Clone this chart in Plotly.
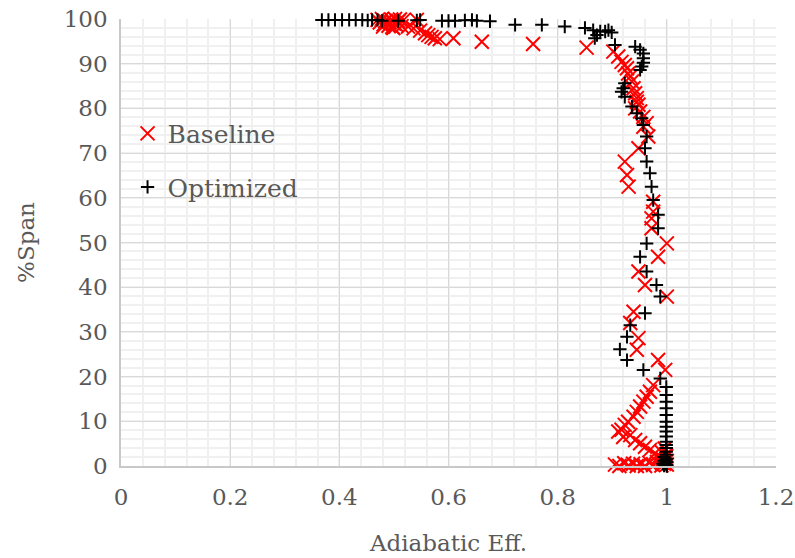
import plotly.graph_objects as go

# ---- Data ----
baseline_x = [
    0.719, 0.832, 0.925, 0.981, 0.994, 1.000, 0.572, 0.627, 0.542,
    0.470, 0.474, 0.478, 0.481, 0.484, 0.487, 0.490, 0.492, 0.495, 0.497,
    0.500, 0.502, 0.505, 0.508, 0.511, 0.514, 0.518, 0.480, 0.489, 0.499,
    0.526, 0.536, 0.548, 0.557, 0.563, 0.569, 0.575, 0.584, 0.609, 0.661,
    0.755, 0.853,
    0.902, 0.911, 0.917, 0.923, 0.927, 0.929, 0.933, 0.936, 0.939, 0.942,
    0.945, 0.948, 0.951, 0.957, 0.963,
    0.945, 0.942, 0.957, 0.966, 0.948, 0.923, 0.927, 0.930, 0.975, 0.975,
    0.972, 0.972, 1.000, 0.984, 0.948, 0.960, 1.000,
    0.939, 0.933, 0.948, 0.945, 0.984, 0.997,
    0.975, 0.969, 0.963, 0.957, 0.951, 0.945, 0.939, 0.929, 0.923, 0.917,
    0.911, 0.920, 0.933, 0.942, 0.951, 0.960, 0.969, 0.978, 0.985,
    0.905, 0.913, 0.922, 0.930, 0.938, 0.945, 0.952, 0.960, 0.968, 0.975,
    0.982, 0.990, 0.995, 1.000, 0.993, 0.998, 0.990, 0.996, 1.000, 0.992,
    0.987, 0.999,
]
baseline_y = [
    100.2, 100.2, 100.2, 100.2, 100.2, 100.2, 100.2, 100.2, 99.8,
    99.8, 99.2, 100.0, 98.8, 99.5, 100.2, 98.5, 99.3, 99.9, 98.2,
    99.0, 100.0, 98.6, 99.5, 99.9, 98.4, 99.8, 98.3, 100.4, 98.0,
    98.3, 97.9, 97.4, 96.8, 96.4, 96.0, 95.7, 95.5, 95.7, 94.9,
    94.4, 93.6,
    92.7, 91.6, 90.4, 89.7, 89.0, 87.8, 87.1, 86.0, 84.5, 83.4,
    82.3, 80.8, 79.3, 78.1, 76.7,
    81.5, 80.0, 75.9, 73.7, 71.1, 68.1, 65.1, 62.5, 59.1, 56.9,
    55.4, 53.2, 49.8, 46.8, 43.5, 40.5, 37.9,
    34.5, 32.0, 28.6, 26.0, 23.7, 21.5,
    18.1, 16.6, 15.5, 14.4, 13.3, 12.1, 11.0, 9.9, 9.2, 8.1,
    7.7, 6.5, 6.9, 5.8, 5.1, 4.3, 3.6, 2.8, 2.0,
    0.3, 0.0, 0.6, 0.1, 0.5, 0.0, 0.4, 0.0, 0.7, 0.2,
    0.9, 0.1, 0.5, 0.3, 1.5, 2.5, 3.2, 3.9, 1.1, 0.8,
    1.8, 2.2,
]

optimized_x = [
    0.368, 0.380, 0.392, 0.405, 0.418, 0.430, 0.442, 0.452, 0.460, 0.470,
    0.478, 0.508, 0.542, 0.548, 0.588, 0.600, 0.612, 0.630, 0.643, 0.648,
    0.652, 0.676, 0.722, 0.771, 0.813, 0.850, 0.865, 0.872, 0.868, 0.878,
    0.887, 0.893, 0.899, 0.905, 0.942, 0.951, 0.957, 0.957, 0.957, 0.954,
    0.951, 0.923, 0.920, 0.917, 0.923, 0.936, 0.945, 0.954, 0.957, 0.963,
    0.960, 0.963, 0.969, 0.972, 0.975, 0.984, 0.984, 0.963, 0.951, 0.963,
    0.981, 0.988, 0.960, 0.933, 0.927, 0.914, 0.927, 0.957, 0.988,
    0.999, 0.999, 0.999, 0.999, 0.999, 0.999, 0.999, 0.999, 0.999, 0.999,
    0.999, 0.999, 0.999, 0.999,
    0.995, 1.000, 0.995, 1.000, 0.997, 1.000, 0.995, 1.000, 0.993, 0.998,
]
optimized_y = [
    99.8, 99.8, 99.8, 99.8, 99.8, 99.8, 99.8, 99.7, 99.8, 99.8,
    99.6, 99.6, 99.7, 99.8, 99.6, 99.6, 99.6, 99.7, 99.8, 100.2,
    99.6, 99.5, 98.7, 98.7, 98.3, 98.0, 97.5, 96.4, 95.7, 97.2,
    97.2, 97.5, 97.0, 94.2, 93.8, 93.1, 92.3, 91.2, 90.2, 89.4,
    88.6, 85.6, 84.5, 83.7, 82.6, 80.4, 78.9, 77.8, 76.3, 73.7,
    71.1, 68.1, 65.5, 62.5, 59.5, 56.2, 53.2, 49.8, 46.8, 43.5,
    40.5, 37.9, 34.2, 31.5, 28.9, 26.1, 23.7, 21.5, 19.6,
    17.7, 15.9, 14.4, 12.9, 11.4, 9.9, 8.8, 7.7, 6.6, 5.4,
    4.7, 4.0, 3.2, 2.5,
    2.0, 1.6, 1.2, 0.9, 0.6, 0.3, 0.1, 0.0, 0.5, 1.4,
]

x_ticks = [0, 0.2, 0.4, 0.6, 0.8, 1.0, 1.2]
y_ticks = [0, 10, 20, 30, 40, 50, 60, 70, 80, 90, 100]

FONT = "DejaVu Serif"
GREY = "#595959"

fig = go.Figure()
fig.add_trace(go.Scatter(
    x=baseline_x, y=baseline_y, mode="markers", name="Baseline",
    legendgroup="b", cliponaxis=False,
    marker=dict(symbol="x-thin", size=14, line=dict(color="#ff0000", width=2), color="#ff0000"),
))
fig.add_trace(go.Scatter(
    x=optimized_x, y=optimized_y, mode="markers", name="Optimized",
    legendgroup="o", cliponaxis=False,
    marker=dict(symbol="cross-thin", size=9.5, line=dict(color="#000000", width=2), color="#000000"),
))

fig.update_layout(
    width=795, height=558,
    margin=dict(l=121, r=19, t=19, b=92),
    paper_bgcolor="white", plot_bgcolor="white",
    font=dict(family=FONT, size=23, color=GREY),
    showlegend=True,
    legend=dict(
        x=0.01, y=0.795, xanchor="left", yanchor="top",
        bgcolor="rgba(0,0,0,0)", borderwidth=0,
        font=dict(family=FONT, size=25, color=GREY),
        tracegroupgap=18,
    ),
    xaxis=dict(
        range=[0, 1.2], tickvals=x_ticks, ticktext=[f"{v:g}" for v in x_ticks],
        automargin=False,
        showgrid=True, gridcolor="#d9d9d9", gridwidth=1.3,
        minor=dict(dtick=0.04, showgrid=True, gridcolor="#f0f0f0", gridwidth=1.5),
        showline=True, linecolor="#c8c8c8", linewidth=1.5,
        zeroline=False, ticks="outside", ticklen=10, tickcolor="rgba(0,0,0,0)",
        title=dict(text="Adiabatic Eff.", font=dict(family=FONT, size=23, color=GREY), standoff=26),
        tickfont=dict(family=FONT, size=23, color=GREY),
    ),
    yaxis=dict(
        range=[0, 100], tickvals=y_ticks,
        automargin=False,
        showgrid=True, gridcolor="#d9d9d9", gridwidth=1.3,
        minor=dict(dtick=2, showgrid=True, gridcolor="#f0f0f0", gridwidth=1.5),
        showline=True, linecolor="#c8c8c8", linewidth=1.5,
        zeroline=False, ticks="outside", ticklen=7, tickcolor="rgba(0,0,0,0)",
        title=dict(text="%Span", font=dict(family=FONT, size=23, color=GREY), standoff=23),
        tickfont=dict(family=FONT, size=23, color=GREY),
    ),
)

fig.write_html(
    "out.html",
    config={"displayModeBar": False},
    post_script="document.body.style.margin='0';document.body.style.padding='0';",
)
